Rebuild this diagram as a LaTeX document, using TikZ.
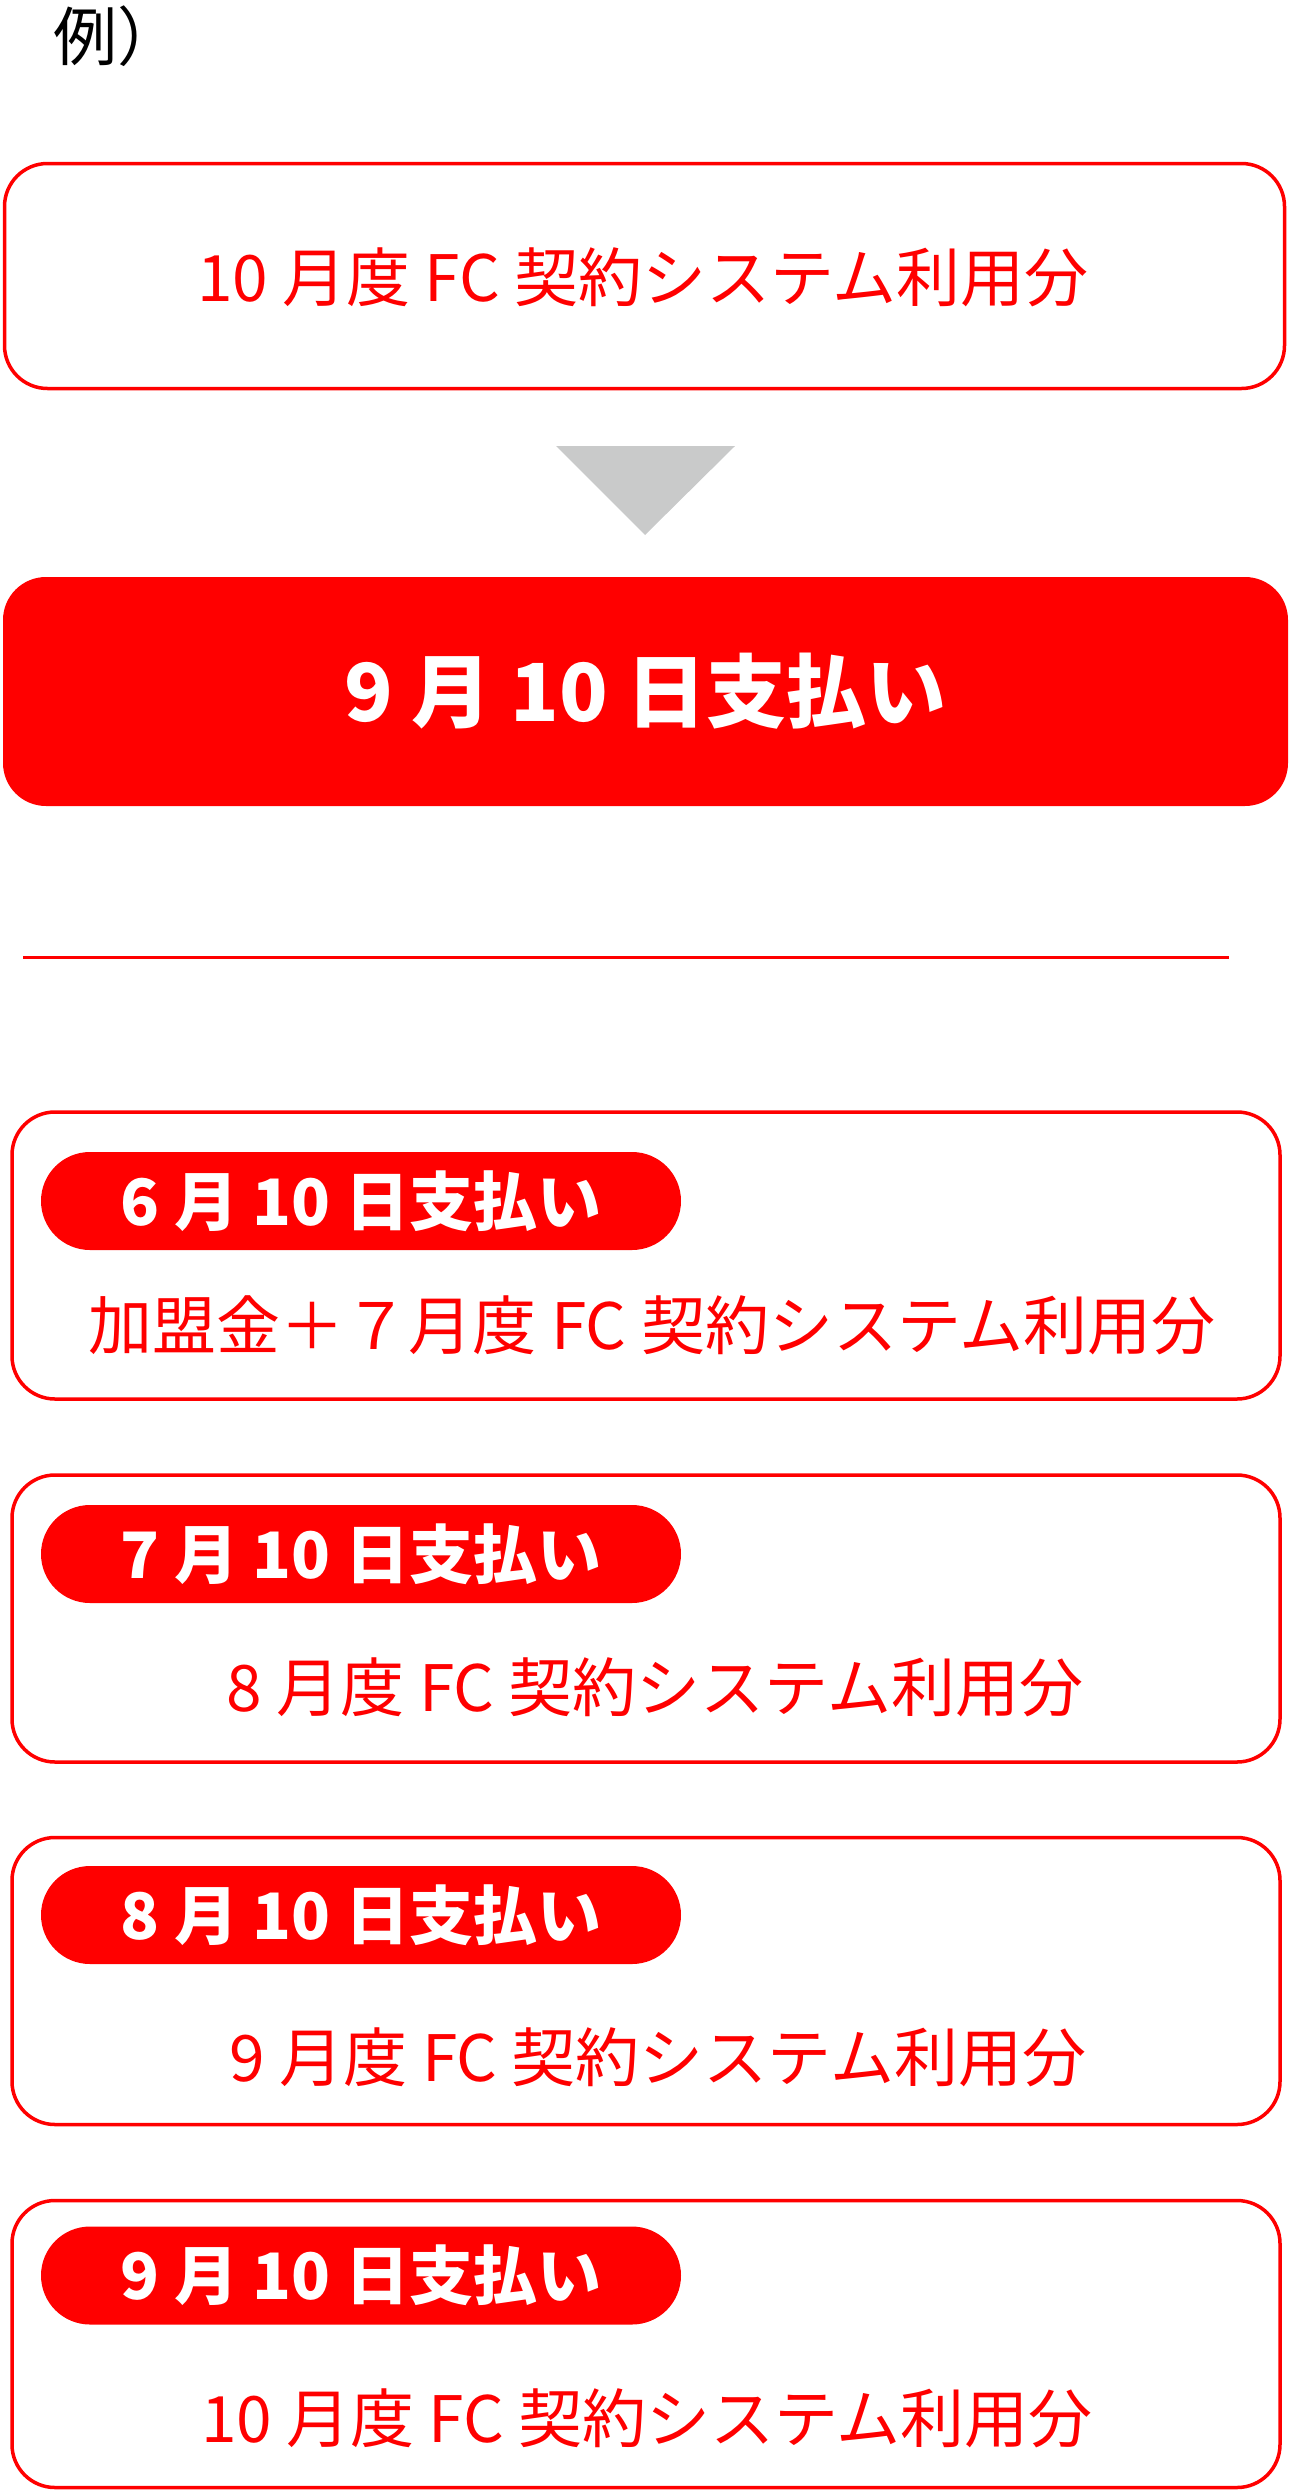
\documentclass[tikz,border=0pt]{standalone}
\usepackage{fontspec}
\setmainfont{Noto Sans CJK JP}
\definecolor{payred}{HTML}{FF0000}
\definecolor{arrowgray}{HTML}{C9CACA}
\tikzset{
  frame/.style={draw=payred, line width=3.5pt, rounded corners=43pt, inner sep=0pt,
    minimum width=1268pt, minimum height=287pt},
  paybox/.style={fill=payred, rounded corners=43pt, inner sep=0pt,
    minimum width=1285pt, minimum height=229pt, text=white,
    font=\fontsize{80}{80}\selectfont\bfseries},
  pill/.style={fill=payred, rounded corners=49pt, inner sep=0pt,
    minimum width=640pt, minimum height=98pt, text=white,
    font=\fontsize{64}{64}\selectfont\bfseries},
  usage/.style={text=payred, inner sep=0pt, font=\fontsize{64}{64}\selectfont}
}
\begin{document}
\begin{tikzpicture}[x=1pt, y=-1pt]
        \useasboundingbox (0, 0) rectangle (1291, 2492);
        \node[inner sep=0pt, anchor=west, font=\fontsize{64}{64}\selectfont] (rei) at (53, 36) {例）};
        % top: usage and payment day
        \node[frame, minimum width=1280pt, minimum height=225pt] (topbox) at (644.5, 276) {};
        \node[usage] (toptext) at (643, 277) {10 月度 FC 契約システム利用分};
        \fill[arrowgray] (556, 446) -- (735, 446) -- (645, 535) -- cycle;
        \node[paybox] (paybig) at (645.5, 691.5) {9 月 10 日支払い};
        \draw[payred, line width=3pt] (23, 957) -- (1229, 957);
        % schedule
        \node[frame] (june) at (646, 1255.5) {};
        \node[pill] (junepay) at (361, 1201) {6 月 10 日支払い};
        \node[usage] (junetext) at (652, 1325) {加盟金＋７月度 FC 契約システム利用分};
        \node[frame] (july) at (646, 1618.5) {};
        \node[pill] (julypay) at (361, 1554) {7 月 10 日支払い};
        \node[usage] (julytext) at (655, 1687) {8 月度 FC 契約システム利用分};
        \node[frame] (aug) at (646, 1981) {};
        \node[pill] (augpay) at (361, 1915) {8 月 10 日支払い};
        \node[usage] (augtext) at (658, 2057) {9 月度 FC 契約システム利用分};
        \node[frame] (sep) at (646, 2344) {};
        \node[pill] (seppay) at (361, 2275.5) {9 月 10 日支払い};
        \node[usage] (septext) at (647, 2418) {10 月度 FC 契約システム利用分};
    \end{tikzpicture}
\end{document}
